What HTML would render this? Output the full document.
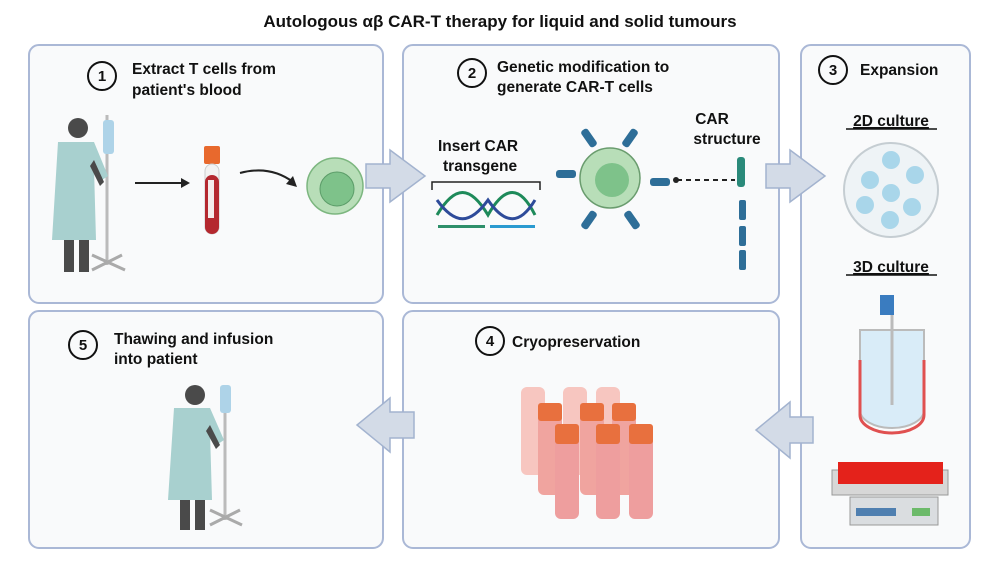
<!DOCTYPE html>
<html><head><meta charset="utf-8"><style>
body{margin:0;width:1000px;height:562px;background:#fff;overflow:hidden}
svg{display:block}
text{font-family:"Liberation Sans",sans-serif;font-weight:bold;fill:#111}
</style></head><body>
<svg width="1000" height="562" viewBox="0 0 1000 562">
<text x="500" y="27" font-size="17" text-anchor="middle">Autologous αβ CAR-T therapy for liquid and solid tumours</text>
<g fill="#f9fafb" stroke="#aab8d6" stroke-width="2">
<rect x="29" y="45" width="354" height="258" rx="10"/>
<rect x="403" y="45" width="376" height="258" rx="10"/>
<rect x="801" y="45" width="169" height="503" rx="10"/>
<rect x="403" y="311" width="376" height="237" rx="10"/>
<rect x="29" y="311" width="354" height="237" rx="10"/>
</g>
<g fill="#d3dbe7" stroke="#a3b3cf" stroke-width="1.5">
<polygon points="366,164 390,164 390,150 425,176 390,202 390,188 366,188"/>
<polygon points="766,164 790,164 790,150 825,176 790,202 790,188 766,188"/>
<polygon points="813,417 790,417 790,402 756,430 790,458 790,443 813,443"/>
<polygon points="414,412 390,412 390,398 357,425 390,452 390,438 414,438"/>
</g>
<g fill="none" stroke="#111" stroke-width="2">
<circle cx="102" cy="76" r="14"/><circle cx="472" cy="73" r="14"/>
<circle cx="833" cy="70" r="14"/><circle cx="490" cy="341" r="14"/>
<circle cx="83" cy="345" r="14"/>
</g>
<g font-size="15" text-anchor="middle">
<text x="102" y="81">1</text><text x="472" y="78">2</text><text x="833" y="75">3</text><text x="490" y="346">4</text><text x="83" y="350">5</text>
</g>
<g font-size="15.5">
<text x="132" y="74">Extract T cells from</text><text x="132" y="95">patient's blood</text>
<text x="497" y="72">Genetic modification to</text><text x="497" y="92">generate CAR-T cells</text>
<text x="860" y="75">Expansion</text>
<text x="512" y="347">Cryopreservation</text>
<text x="114" y="344">Thawing and infusion</text><text x="114" y="364">into patient</text>
<text x="438" y="151">Insert CAR</text><text x="443" y="171">transgene</text>
<text x="712" y="124" text-anchor="middle">CAR</text><text x="727" y="144" text-anchor="middle">structure</text>
<text x="891" y="126" text-anchor="middle" text-decoration="underline">2D culture</text>
<text x="891" y="272" text-anchor="middle" text-decoration="underline">3D culture</text>
</g>
<line x1="846" y1="129" x2="937" y2="129" stroke="#111" stroke-width="1.5"/>
<line x1="846" y1="275" x2="937" y2="275" stroke="#111" stroke-width="1.5"/>
<!-- patient 1 -->
<g>
<line x1="107" y1="115" x2="107" y2="265" stroke="#bbb" stroke-width="3"/>
<path d="M92,270 L122,255 M92,255 L125,270" stroke="#aaa" stroke-width="3"/>
<rect x="103" y="120" width="11" height="34" rx="3" fill="#aed3e8"/>
<circle cx="78" cy="128" r="10" fill="#4a4a4a"/>
<rect x="64" y="236" width="10" height="36" fill="#4a4a4a"/><rect x="79" y="236" width="10" height="36" fill="#4a4a4a"/>
<path d="M58,142 h36 l14,34 l-6,4 l-8,-12 l2,72 h-44 z" fill="#a8d0cf"/>
<path d="M94,160 l10,22 l-4,4 l-10,-20z" fill="#4a4a4a"/>
<line x1="135" y1="183" x2="183" y2="183" stroke="#222" stroke-width="2"/>
<polygon points="190,183 181,178 181,188" fill="#222"/>
<rect x="204" y="146" width="16" height="18" rx="2" fill="#e8692d"/>
<rect x="205" y="164" width="14" height="70" rx="7" fill="#f2f2f2" stroke="#ccc"/>
<rect x="205" y="175" width="14" height="59" rx="7" fill="#b4282f"/>
<rect x="208" y="180" width="6" height="38" fill="#f4ecec"/>
<path d="M240,173 Q270,165 293,182" fill="none" stroke="#222" stroke-width="2"/>
<polygon points="297,187 286,184 293,176" fill="#222"/>
<circle cx="335" cy="186" r="28" fill="#b8deb8" stroke="#7cb67f" stroke-width="1.5"/>
<circle cx="337" cy="189" r="17" fill="#7ec28a" stroke="#5b9c68"/>
</g>
<!-- box2 art -->
<path d="M432,190 v-8 h108 v8" fill="none" stroke="#222" stroke-width="1.5"/>
<path d="M437,215 C455,185 470,185 488,215 C505,185 520,185 535,215" fill="none" stroke="#1e8a5a" stroke-width="3"/>
<path d="M437,200 C455,225 470,225 488,200 C505,225 520,225 535,200" fill="none" stroke="#2e4b9a" stroke-width="3"/>
<rect x="438" y="225" width="47" height="3" fill="#2e8f6a"/><rect x="490" y="225" width="45" height="3" fill="#2a9ad0"/>
<circle cx="610" cy="178" r="30" fill="#b8deb8" stroke="#6a9c6e" stroke-width="1.5"/>
<circle cx="612" cy="180" r="17" fill="#7ec28a"/>
<g fill="#2e6e98">
<rect x="585" y="128" width="8" height="20" rx="3" transform="rotate(-35 589 138)"/>
<rect x="626" y="128" width="8" height="20" rx="3" transform="rotate(35 630 138)"/>
<rect x="556" y="170" width="20" height="8" rx="3"/>
<rect x="650" y="178" width="20" height="8" rx="3"/>
<rect x="585" y="210" width="8" height="20" rx="3" transform="rotate(35 589 220)"/>
<rect x="628" y="210" width="8" height="20" rx="3" transform="rotate(-35 632 220)"/>
<rect x="737" y="157" width="8" height="30" rx="3" fill="#2a8a7a"/>
<rect x="739" y="200" width="7" height="20" rx="2"/><rect x="739" y="226" width="7" height="20" rx="2"/><rect x="739" y="250" width="7" height="20" rx="2"/>
</g>
<line x1="677" y1="180" x2="735" y2="180" stroke="#222" stroke-width="2" stroke-dasharray="5,4"/>
<circle cx="676" cy="180" r="3" fill="#222"/>
<!-- petri -->
<circle cx="891" cy="190" r="47" fill="#eef3f6" stroke="#c5cdd2" stroke-width="2"/>
<g fill="#a9d6ea"><circle cx="891" cy="160" r="9"/><circle cx="870" cy="180" r="9"/><circle cx="915" cy="175" r="9"/><circle cx="891" cy="193" r="9"/><circle cx="865" cy="205" r="9"/><circle cx="912" cy="207" r="9"/><circle cx="890" cy="220" r="9"/></g>
<!-- bioreactor -->
<rect x="880" y="295" width="14" height="20" fill="#3a7cc0"/>
<path d="M860,330 h64 v80 a32,18 0 0 1 -64,0z" fill="#d9ecf8" stroke="#bbb" stroke-width="2"/>
<path d="M860,360 v55 a32,18 0 0 0 64,0 v-55" fill="none" stroke="#e05050" stroke-width="3"/>
<line x1="892" y1="315" x2="892" y2="405" stroke="#bbb" stroke-width="3"/>
<!-- rocker -->
<rect x="832" y="470" width="116" height="25" fill="#d7d7d7" stroke="#999"/>
<rect x="838" y="462" width="105" height="22" fill="#e4221b"/>
<rect x="850" y="497" width="88" height="28" fill="#dadde0" stroke="#999"/>
<rect x="856" y="508" width="40" height="8" fill="#4f7fb0"/><rect x="912" y="508" width="18" height="8" fill="#6cba6a"/>
<!-- vials -->
<g>
<g fill="#f7c6c0"><rect x="521" y="387" width="24" height="88" rx="6"/><rect x="563" y="387" width="24" height="88" rx="6"/><rect x="596" y="387" width="24" height="88" rx="6"/></g>
<g fill="#f0a49f"><rect x="538" y="403" width="24" height="92" rx="6"/><rect x="580" y="403" width="24" height="92" rx="6"/><rect x="612" y="403" width="24" height="92" rx="6"/></g>
<g fill="#ee9e9e"><rect x="555" y="424" width="24" height="95" rx="6"/><rect x="596" y="424" width="24" height="95" rx="6"/><rect x="629" y="424" width="24" height="95" rx="6"/></g>
<g fill="#e8703e"><rect x="555" y="424" width="24" height="20" rx="3"/><rect x="596" y="424" width="24" height="20" rx="3"/><rect x="629" y="424" width="24" height="20" rx="3"/><rect x="538" y="403" width="24" height="18" rx="3"/><rect x="580" y="403" width="24" height="18" rx="3"/><rect x="612" y="403" width="24" height="18" rx="3"/></g>
</g>
<!-- patient 5 -->
<g>
<line x1="225" y1="385" x2="225" y2="520" stroke="#bbb" stroke-width="3"/>
<path d="M210,525 L240,510 M210,510 L242,525" stroke="#aaa" stroke-width="3"/>
<rect x="220" y="385" width="11" height="28" rx="3" fill="#aed3e8"/>
<circle cx="195" cy="395" r="10" fill="#4a4a4a"/>
<rect x="180" y="495" width="10" height="35" fill="#4a4a4a"/><rect x="195" y="495" width="10" height="35" fill="#4a4a4a"/>
<path d="M174,408 h36 l14,32 l-6,4 l-8,-12 l2,68 h-44 z" fill="#a8d0cf"/>
<path d="M210,425 l10,20 l-4,4 l-10,-18z" fill="#4a4a4a"/>
</g>
</svg>
</body></html>
